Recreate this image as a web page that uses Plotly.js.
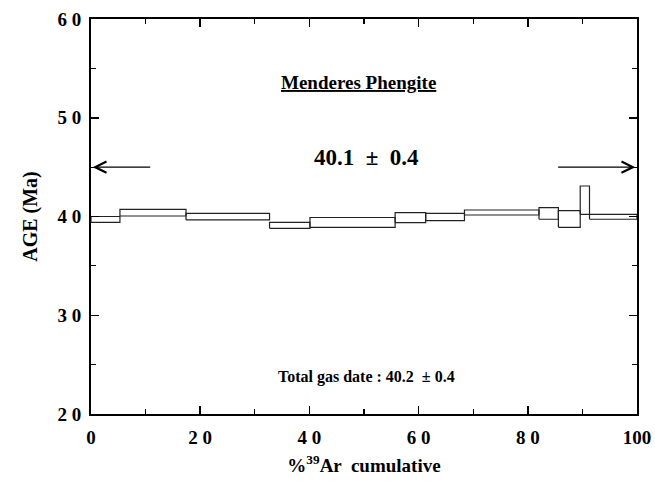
<!DOCTYPE html>
<html>
<head>
<meta charset="utf-8">
<script src="https://cdn.plot.ly/plotly-3.0.1.min.js"></script>
<style>html,body{margin:0;padding:0;background:#fff;}#chart{width:655px;height:484px;}</style>
</head>
<body>
<div id="chart"></div>
<script>
// Cumulative %39Ar step boundaries
var stepEdges = [0, 5.3, 17.4, 32.7, 40.1, 55.7, 61.3, 68.4, 82.05, 85.6, 89.6, 91.3, 100];
// Lower and upper apparent age of each step (Ma)
var ageLow  = [39.4, 40.05, 39.65, 38.8, 38.9, 39.37, 39.58, 40.15, 39.72, 38.9, 40.22, 39.72];
var ageHigh = [40.0, 40.73, 40.32, 39.41, 39.9, 40.39, 40.32, 40.66, 40.9, 40.6, 43.09, 40.22];

var xTickVals = [0, 20, 40, 60, 80, 100];
var xTickText = ["0", "2 0", "4 0", "6 0", "8 0", "100"];
var yTickVals = [20, 30, 40, 50, 60];
var yTickText = ["2 0", "3 0", "4 0", "5 0", "6 0"];

var plateauAge = "40.1  \u00b1  0.4";
var totalGas = "Total gas date : 40.2  \u00b1 0.4";
var sampleName = "Menderes Phengite";
var plateauY = 45;
var plateauStart = 0, plateauEnd = 100;
var arrowTailLeft = 11.4, arrowTailRight = 85;

var xs = [], ys = [];
for (var i = 0; i < ageLow.length; i++) {
  var a = stepEdges[i], b = stepEdges[i + 1];
  xs.push(a, a, b, b, a, null);
  ys.push(ageLow[i], ageHigh[i], ageHigh[i], ageLow[i], ageLow[i], null);
}

var serif = "Liberation Serif, Times New Roman, serif";

var steps = {
  x: xs, y: ys, mode: "lines", type: "scatter",
  line: {color: "#222", width: 1.2},
  hoverinfo: "skip", showlegend: false
};

var layout = {
  width: 655, height: 484,
  margin: {l: 91, r: 18, t: 19, b: 70},
  paper_bgcolor: "#fff", plot_bgcolor: "#fff",
  font: {family: serif, color: "#000"},
  xaxis: {
    range: [0, 100], tickvals: xTickVals, ticktext: xTickText,
    ticks: "inside", ticklen: 8, tickwidth: 1.5, tickcolor: "#000",
    minor: {dtick: 10, ticks: "inside", ticklen: 5, tickwidth: 1.2, tickcolor: "#000"},
    showline: true, linewidth: 2, linecolor: "#000", mirror: "ticks",
    showgrid: false, zeroline: false, ticklabelstandoff: 5,
    tickfont: {family: serif, size: 19, color: "#000", weight: "bold"},
    title: {text: "%<sup>39</sup>Ar  cumulative", font: {family: serif, size: 19, weight: "bold", color: "#000"}, standoff: 12}
  },
  yaxis: {
    range: [20, 60], tickvals: yTickVals, ticktext: yTickText,
    ticks: "inside", ticklen: 8, tickwidth: 1.5, tickcolor: "#000",
    minor: {dtick: 5, ticks: "inside", ticklen: 5, tickwidth: 1.2, tickcolor: "#000"},
    showline: true, linewidth: 2, linecolor: "#000", mirror: "ticks",
    showgrid: false, zeroline: false, ticklabelstandoff: 4,
    tickfont: {family: serif, size: 19, color: "#000", weight: "bold"},
    title: {text: "AGE (Ma)", font: {family: serif, size: 20, weight: "bold", color: "#000"}, standoff: 14}
  },
  annotations: [
    {x: 49, y: 53.6, xref: "x", yref: "y", text: "<u>" + sampleName + "</u>", showarrow: false,
     font: {family: serif, size: 19, weight: "bold", color: "#000"}},
    {x: 50.4, y: 46, xref: "x", yref: "y", text: plateauAge, showarrow: false,
     font: {family: serif, size: 23, weight: "bold", color: "#000"}},
    {x: 50.5, y: 23.75, xref: "x", yref: "y", text: totalGas, showarrow: false,
     font: {family: serif, size: 16, weight: "bold", color: "#000"}},
    {x: plateauStart + 0.3, y: plateauY, ax: arrowTailLeft, ay: plateauY, xref: "x", yref: "y", axref: "x", ayref: "y",
     text: " ", showarrow: true, arrowhead: 5, arrowsize: 1.6, arrowwidth: 1.4, arrowcolor: "#000"},
    {x: plateauEnd - 0.3, y: plateauY, ax: arrowTailRight, ay: plateauY, xref: "x", yref: "y", axref: "x", ayref: "y",
     text: " ", showarrow: true, arrowhead: 5, arrowsize: 1.6, arrowwidth: 1.4, arrowcolor: "#000"}
  ]
};

Plotly.newPlot("chart", [steps], layout, {staticPlot: true, displayModeBar: false});
</script>
</body>
</html>
